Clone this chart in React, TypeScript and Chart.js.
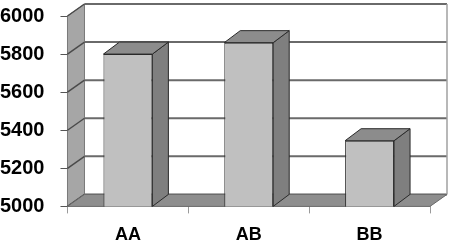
import React, { useEffect, useRef } from "react";
import { Chart, registerables } from "chart.js";

Chart.register(...registerables);

const categories = ["AA", "AB", "BB"];
const values = [5800, 5860, 5345];
const yMin = 5000;
const yMax = 6000;
const yStep = 200;

const WALL_DX = 17;
const WALL_DY = -12;
const BAR_DX = 16;
const BAR_DY = -12;
const Y_TICK_MARK = 7;

function line(ctx: CanvasRenderingContext2D, x1: number, y1: number, x2: number, y2: number) {
  ctx.beginPath();
  ctx.moveTo(x1, y1);
  ctx.lineTo(x2, y2);
  ctx.stroke();
}

function poly(ctx: CanvasRenderingContext2D, pts: number[][], fill: string, stroke?: string, lw = 1) {
  ctx.beginPath();
  ctx.moveTo(pts[0][0], pts[0][1]);
  for (let i = 1; i < pts.length; i++) ctx.lineTo(pts[i][0], pts[i][1]);
  ctx.closePath();
  ctx.fillStyle = fill;
  ctx.fill();
  if (stroke) {
    ctx.strokeStyle = stroke;
    ctx.lineWidth = lw;
    ctx.stroke();
  }
}

const threeD = {
  id: "threeD",
  beforeDatasetsDraw(chart: any) {
    const { ctx, chartArea: a, scales } = chart;
    const y = scales.y;
    ctx.save();
    // back wall
    poly(ctx, [
      [a.left + WALL_DX, a.top + WALL_DY],
      [a.right + WALL_DX, a.top + WALL_DY],
      [a.right + WALL_DX, a.bottom + WALL_DY],
      [a.left + WALL_DX, a.bottom + WALL_DY],
    ], "#ffffff");
    ctx.strokeStyle = "#6a6a6a";
    ctx.lineWidth = 2;
    for (const t of y.ticks) {
      const p = y.getPixelForValue(t.value) + WALL_DY;
      line(ctx, a.left + WALL_DX, p, a.right + WALL_DX, p);
    }
    ctx.strokeStyle = "#a0a0a0";
    ctx.lineWidth = 1.5;
    line(ctx, a.right + WALL_DX, a.top + WALL_DY, a.right + WALL_DX, a.bottom + WALL_DY);
    // left wall
    poly(ctx, [
      [a.left, a.top],
      [a.left + WALL_DX, a.top + WALL_DY],
      [a.left + WALL_DX, a.bottom + WALL_DY],
      [a.left, a.bottom],
    ], "#a6a6a6", "#7a7a7a", 1);
    ctx.strokeStyle = "#4a4a4a";
    ctx.lineWidth = 1.5;
    for (const t of y.ticks) {
      const p = y.getPixelForValue(t.value);
      line(ctx, a.left, p, a.left + WALL_DX, p + WALL_DY);
      // short tick mark in front of the axis
      ctx.save();
      ctx.strokeStyle = "#555";
      ctx.lineWidth = 1;
      line(ctx, a.left - Y_TICK_MARK, Math.round(p) + 0.5, a.left, Math.round(p) + 0.5);
      ctx.restore();
    }
    // floor
    poly(ctx, [
      [a.left, a.bottom],
      [a.right, a.bottom],
      [a.right + WALL_DX, a.bottom + WALL_DY],
      [a.left + WALL_DX, a.bottom + WALL_DY],
    ], "#8e8e8e", "#6a6a6a", 1);
    ctx.restore();
  },
  afterDatasetsDraw(chart: any) {
    const { ctx, chartArea: a } = chart;
    const meta = chart.getDatasetMeta(0);
    ctx.save();
    ctx.lineJoin = "round";
    for (const el of meta.data) {
      const { x, y, base, width } = el.getProps(["x", "y", "base", "width"], true);
      const b = Math.min(base, a.bottom);
      const l = x - width / 2;
      const r = x + width / 2;
      // side face
      poly(ctx, [
        [r, y],
        [r + BAR_DX, y + BAR_DY],
        [r + BAR_DX, b + BAR_DY],
        [r, b],
      ], "#7f7f7f", "#2a2a2a", 1);
      // top face
      poly(ctx, [
        [l, y],
        [l + BAR_DX, y + BAR_DY],
        [r + BAR_DX, y + BAR_DY],
        [r, y],
      ], "#8c8c8c", "#2a2a2a", 1);
    }
    ctx.restore();
  },
};

export default function App() {
  const ref = useRef<HTMLCanvasElement | null>(null);
  useEffect(() => {
    if (!ref.current) return;
    const chart = new Chart(ref.current, {
      type: "bar",
      data: {
        labels: categories,
        datasets: [
          {
            data: values,
            backgroundColor: "#c0c0c0",
            borderColor: "#2a2a2a",
            borderWidth: 1,
            categoryPercentage: 1,
            barPercentage: 0.405,
          },
        ],
      },
      options: {
        animation: false,
        responsive: false,
        devicePixelRatio: 1,
        layout: { padding: { left: 0, right: 21, top: 16, bottom: 0 } },
        plugins: { legend: { display: false }, tooltip: { enabled: false } },
        scales: {
          x: {
            grid: { drawOnChartArea: false, tickLength: 7, color: "#9a9a9a", offset: true },
            border: { display: false },
            ticks: {
              color: "#000",
              padding: 11,
              font: { family: "'Liberation Sans', Arial, sans-serif", size: 18, weight: "bold" },
            },
          },
          y: {
            min: yMin,
            max: yMax,
            grid: { drawOnChartArea: false, tickLength: 23, tickColor: "rgba(0,0,0,0)" },
            border: { display: false },
            ticks: {
              stepSize: yStep,
              color: "#000",
              padding: 0,
              callback: (v: any) => String(v),
              font: { family: "'Liberation Sans', Arial, sans-serif", size: 20, weight: "bold" },
            },
          },
        },
      },
      plugins: [threeD],
    });
    return () => chart.destroy();
  }, []);
  return (
    <div style={{ position: "fixed", left: 0, top: 0, width: 451, height: 242, overflow: "hidden", background: "#fff" }}>
      <canvas ref={ref} width={451} height={257} style={{ display: "block" }} />
    </div>
  );
}
